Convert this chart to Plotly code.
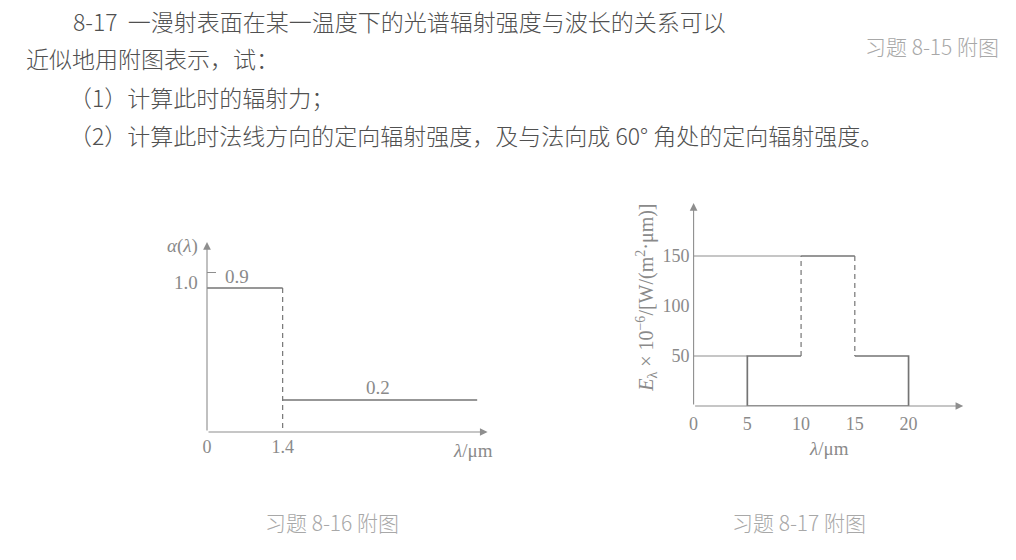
import plotly.graph_objects as go

# ---------------- data ----------------
# Fig. 8-16: spectral absorptivity alpha(lambda), step function
alpha_edges = [0, 1.4, 5.0]          # wavelength edges, um
alpha_values = [0.9, 0.2]            # absorptivity in each band
alpha_xticks = [0, 1.4]
alpha_xtick_labels = ["0", "1.4"]
alpha_ytick = 1.0
alpha_ytick_label = "1.0"

# Fig. 8-17: spectral emissive power E_lambda x 1e-6, step function
E_edges = [5, 10, 15, 20]            # wavelength edges, um
E_values = [50, 150, 50]             # W/(m2.um) x 1e-6
E_xticks = [0, 5, 10, 15, 20]
E_yticks = [50, 100, 150]

text_lines = [
    "8-17  一漫射表面在某一温度下的光谱辐射强度与波长的关系可以",
    "近似地用附图表示，试：",
    "（1）计算此时的辐射力；",
    "（2）计算此时法线方向的定向辐射强度，及与法向成 60° 角处的定向辐射强度。",
]
captions = ["习题 8-15 附图", "习题 8-16 附图", "习题 8-17 附图"]

# ---------------- style ----------------
W, H = 1016, 560
BODY = "#505050"
AXC = "#8e8e8e"
LINEC = "#747474"
LBLC = "#8a8a8a"
CAPC = "#a8a8a8"
SERIF = "Liberation Serif"
CJK = "Noto Sans CJK SC"

def px(xp):
    return xp / W

def py(yp):
    return 1 - yp / H

fig = go.Figure()

# ---- left chart (alpha) ----
a0 = alpha_values[0]
a1 = alpha_values[1]
fig.add_trace(go.Scatter(x=[alpha_edges[0], alpha_edges[1]], y=[a0, a0], mode="lines",
                         line=dict(color=LINEC, width=1.6), xaxis="x", yaxis="y",
                         cliponaxis=False, hoverinfo="skip"))
fig.add_trace(go.Scatter(x=[alpha_edges[1], alpha_edges[1]], y=[a0, 0], mode="lines",
                         line=dict(color=LINEC, width=1.2, dash="5px,4px"), xaxis="x", yaxis="y",
                         cliponaxis=False, hoverinfo="skip"))
fig.add_trace(go.Scatter(x=[alpha_edges[1], alpha_edges[2]], y=[a1, a1], mode="lines",
                         line=dict(color=LINEC, width=1.6), xaxis="x", yaxis="y",
                         cliponaxis=False, hoverinfo="skip"))

# ---- right chart (E_lambda) ----
# guide lines from the y axis
fig.add_trace(go.Scatter(x=[0, E_edges[0]], y=[E_values[0], E_values[0]], mode="lines",
                         line=dict(color=AXC, width=1.1), xaxis="x2", yaxis="y2",
                         cliponaxis=False, hoverinfo="skip"))
fig.add_trace(go.Scatter(x=[0, E_edges[1]], y=[E_values[1], E_values[1]], mode="lines",
                         line=dict(color=AXC, width=1.1), xaxis="x2", yaxis="y2",
                         cliponaxis=False, hoverinfo="skip"))
# solid step outline
fig.add_trace(go.Scatter(x=[E_edges[1], E_edges[0], E_edges[0], E_edges[1]],
                         y=[0, 0, E_values[0], E_values[0]], mode="lines",
                         line=dict(color=LINEC, width=1.7), xaxis="x2", yaxis="y2",
                         cliponaxis=False, hoverinfo="skip"))
fig.add_trace(go.Scatter(x=[E_edges[1], E_edges[2]], y=[E_values[1], E_values[1]], mode="lines",
                         line=dict(color=LINEC, width=1.7), xaxis="x2", yaxis="y2",
                         cliponaxis=False, hoverinfo="skip"))
fig.add_trace(go.Scatter(x=[E_edges[2], E_edges[3], E_edges[3], E_edges[1]],
                         y=[E_values[2], E_values[2], 0, 0], mode="lines",
                         line=dict(color=LINEC, width=1.7), xaxis="x2", yaxis="y2",
                         cliponaxis=False, hoverinfo="skip"))
# dashed risers
for xe, ya, yb in [(E_edges[1], E_values[0], E_values[1]), (E_edges[2], E_values[1], E_values[2])]:
    fig.add_trace(go.Scatter(x=[xe, xe], y=[ya, yb], mode="lines",
                             line=dict(color=LINEC, width=1.2, dash="5px,4px"), xaxis="x2", yaxis="y2",
                             cliponaxis=False, hoverinfo="skip"))

# ---------------- axes ----------------
L_XMAX = 5.193
L_YMAX = 1.1875
R_XMAX = 25.09
R_YMAX = 203

tickfont = dict(family=SERIF, size=18, color=LBLC)
fig.update_layout(
    xaxis=dict(domain=[px(203), px(485)], range=[0, L_XMAX], anchor="y",
               showgrid=False, zeroline=False, showline=False, ticks="",
               tickvals=alpha_xticks, ticktext=alpha_xtick_labels, tickfont=tickfont,
               ticklabelstandoff=2, fixedrange=True),
    yaxis=dict(domain=[py(432), py(242)], range=[0, L_YMAX], anchor="x",
               showgrid=False, zeroline=False, showline=False, ticks="inside",
               ticklen=9, tickwidth=1, tickcolor=AXC,
               tickvals=[alpha_ytick], showticklabels=False, fixedrange=True),
    xaxis2=dict(domain=[px(692), px(963)], range=[0, R_XMAX], anchor="y2",
                showgrid=False, zeroline=False, showline=False, ticks="",
                tickvals=E_xticks, ticktext=[str(v) for v in E_xticks], tickfont=tickfont,
                ticklabelstandoff=5, fixedrange=True),
    yaxis2=dict(domain=[py(406), py(203)], range=[0, R_YMAX], anchor="x2",
                showgrid=False, zeroline=False, showline=False, ticks="",
                tickvals=E_yticks, ticktext=[str(v) for v in E_yticks], tickfont=tickfont,
                ticklabelstandoff=3, fixedrange=True),
)

ann = []
# axis arrows
def arrow(xr, yr, x0, y0, x1, y1):
    return dict(xref=xr, yref=yr, axref=xr, ayref=yr, x=x1, y=y1, ax=x0, ay=y0,
                text="", showarrow=True, arrowhead=2, arrowsize=1.4, arrowwidth=1.1,
                arrowcolor=AXC)

ann.append(arrow("x", "y", 0, 0, L_XMAX, 0))
ann.append(arrow("x", "y", 0, 0, 0, L_YMAX))
ann.append(arrow("x2", "y2", 0, 0, R_XMAX, 0))
ann.append(arrow("x2", "y2", 0, 0, 0, R_YMAX))

lblfont = dict(family=SERIF, size=19, color=LBLC)
# left chart labels
ann.append(dict(xref="paper", yref="paper", x=px(178), y=py(246), text="<i>α</i>(<i>λ</i>)",
                showarrow=False, font=lblfont, xanchor="center", yanchor="middle"))
ann.append(dict(xref="x", yref="y", x=0, y=alpha_ytick, text=alpha_ytick_label, xshift=-21, yshift=-10,
                showarrow=False, font=lblfont, xanchor="center", yanchor="middle"))
ann.append(dict(xref="x", yref="y", x=0.55, y=a0, text=f"{a0:.1f}", yshift=12,
                showarrow=False, font=lblfont, xanchor="center", yanchor="middle"))
ann.append(dict(xref="x", yref="y", x=3.17, y=a1, text=f"{a1:.1f}", yshift=13,
                showarrow=False, font=lblfont, xanchor="center", yanchor="middle"))
ann.append(dict(xref="paper", yref="paper", x=px(470), y=py(450), text="<i>λ</i>/μm",
                showarrow=False, font=lblfont, xanchor="center", yanchor="middle"))
# right chart labels
ann.append(dict(xref="paper", yref="paper", x=px(645), y=py(298),
                text="<i>E</i><sub>λ</sub> × 10<sup>−6</sup>/[W/(m<sup>2</sup>·μm)]",
                textangle=-90, showarrow=False, font=dict(family=SERIF, size=20, color=LBLC),
                xanchor="center", yanchor="middle"))
ann.append(dict(xref="paper", yref="paper", x=px(828), y=py(448), text="<i>λ</i>/μm",
                showarrow=False, font=lblfont, xanchor="center", yanchor="middle"))

# body text
body_pos = [(66, 21), (19, 58), (62, 97), (62, 135)]
for (xp, yp), t in zip(body_pos, text_lines):
    ann.append(dict(xref="paper", yref="paper", x=px(xp), y=py(yp), text=t, showarrow=False,
                    font=dict(family=CJK, size=23, color=BODY, weight=300),
                    xanchor="left", yanchor="middle"))

# captions
cap_pos = [(932, 46), (329, 522), (798, 522)]
for (xp, yp), t in zip(cap_pos, captions):
    ann.append(dict(xref="paper", yref="paper", x=px(xp), y=py(yp), text=t, showarrow=False,
                    font=dict(family=CJK, size=21, color=CAPC, weight=300),
                    xanchor="center", yanchor="middle"))

fig.update_layout(
    annotations=ann,
    width=W, height=H,
    margin=dict(l=0, r=0, t=0, b=0),
    paper_bgcolor="white", plot_bgcolor="rgba(0,0,0,0)",
    showlegend=False,
)

fig.write_html("out.html", config={"displayModeBar": False})
